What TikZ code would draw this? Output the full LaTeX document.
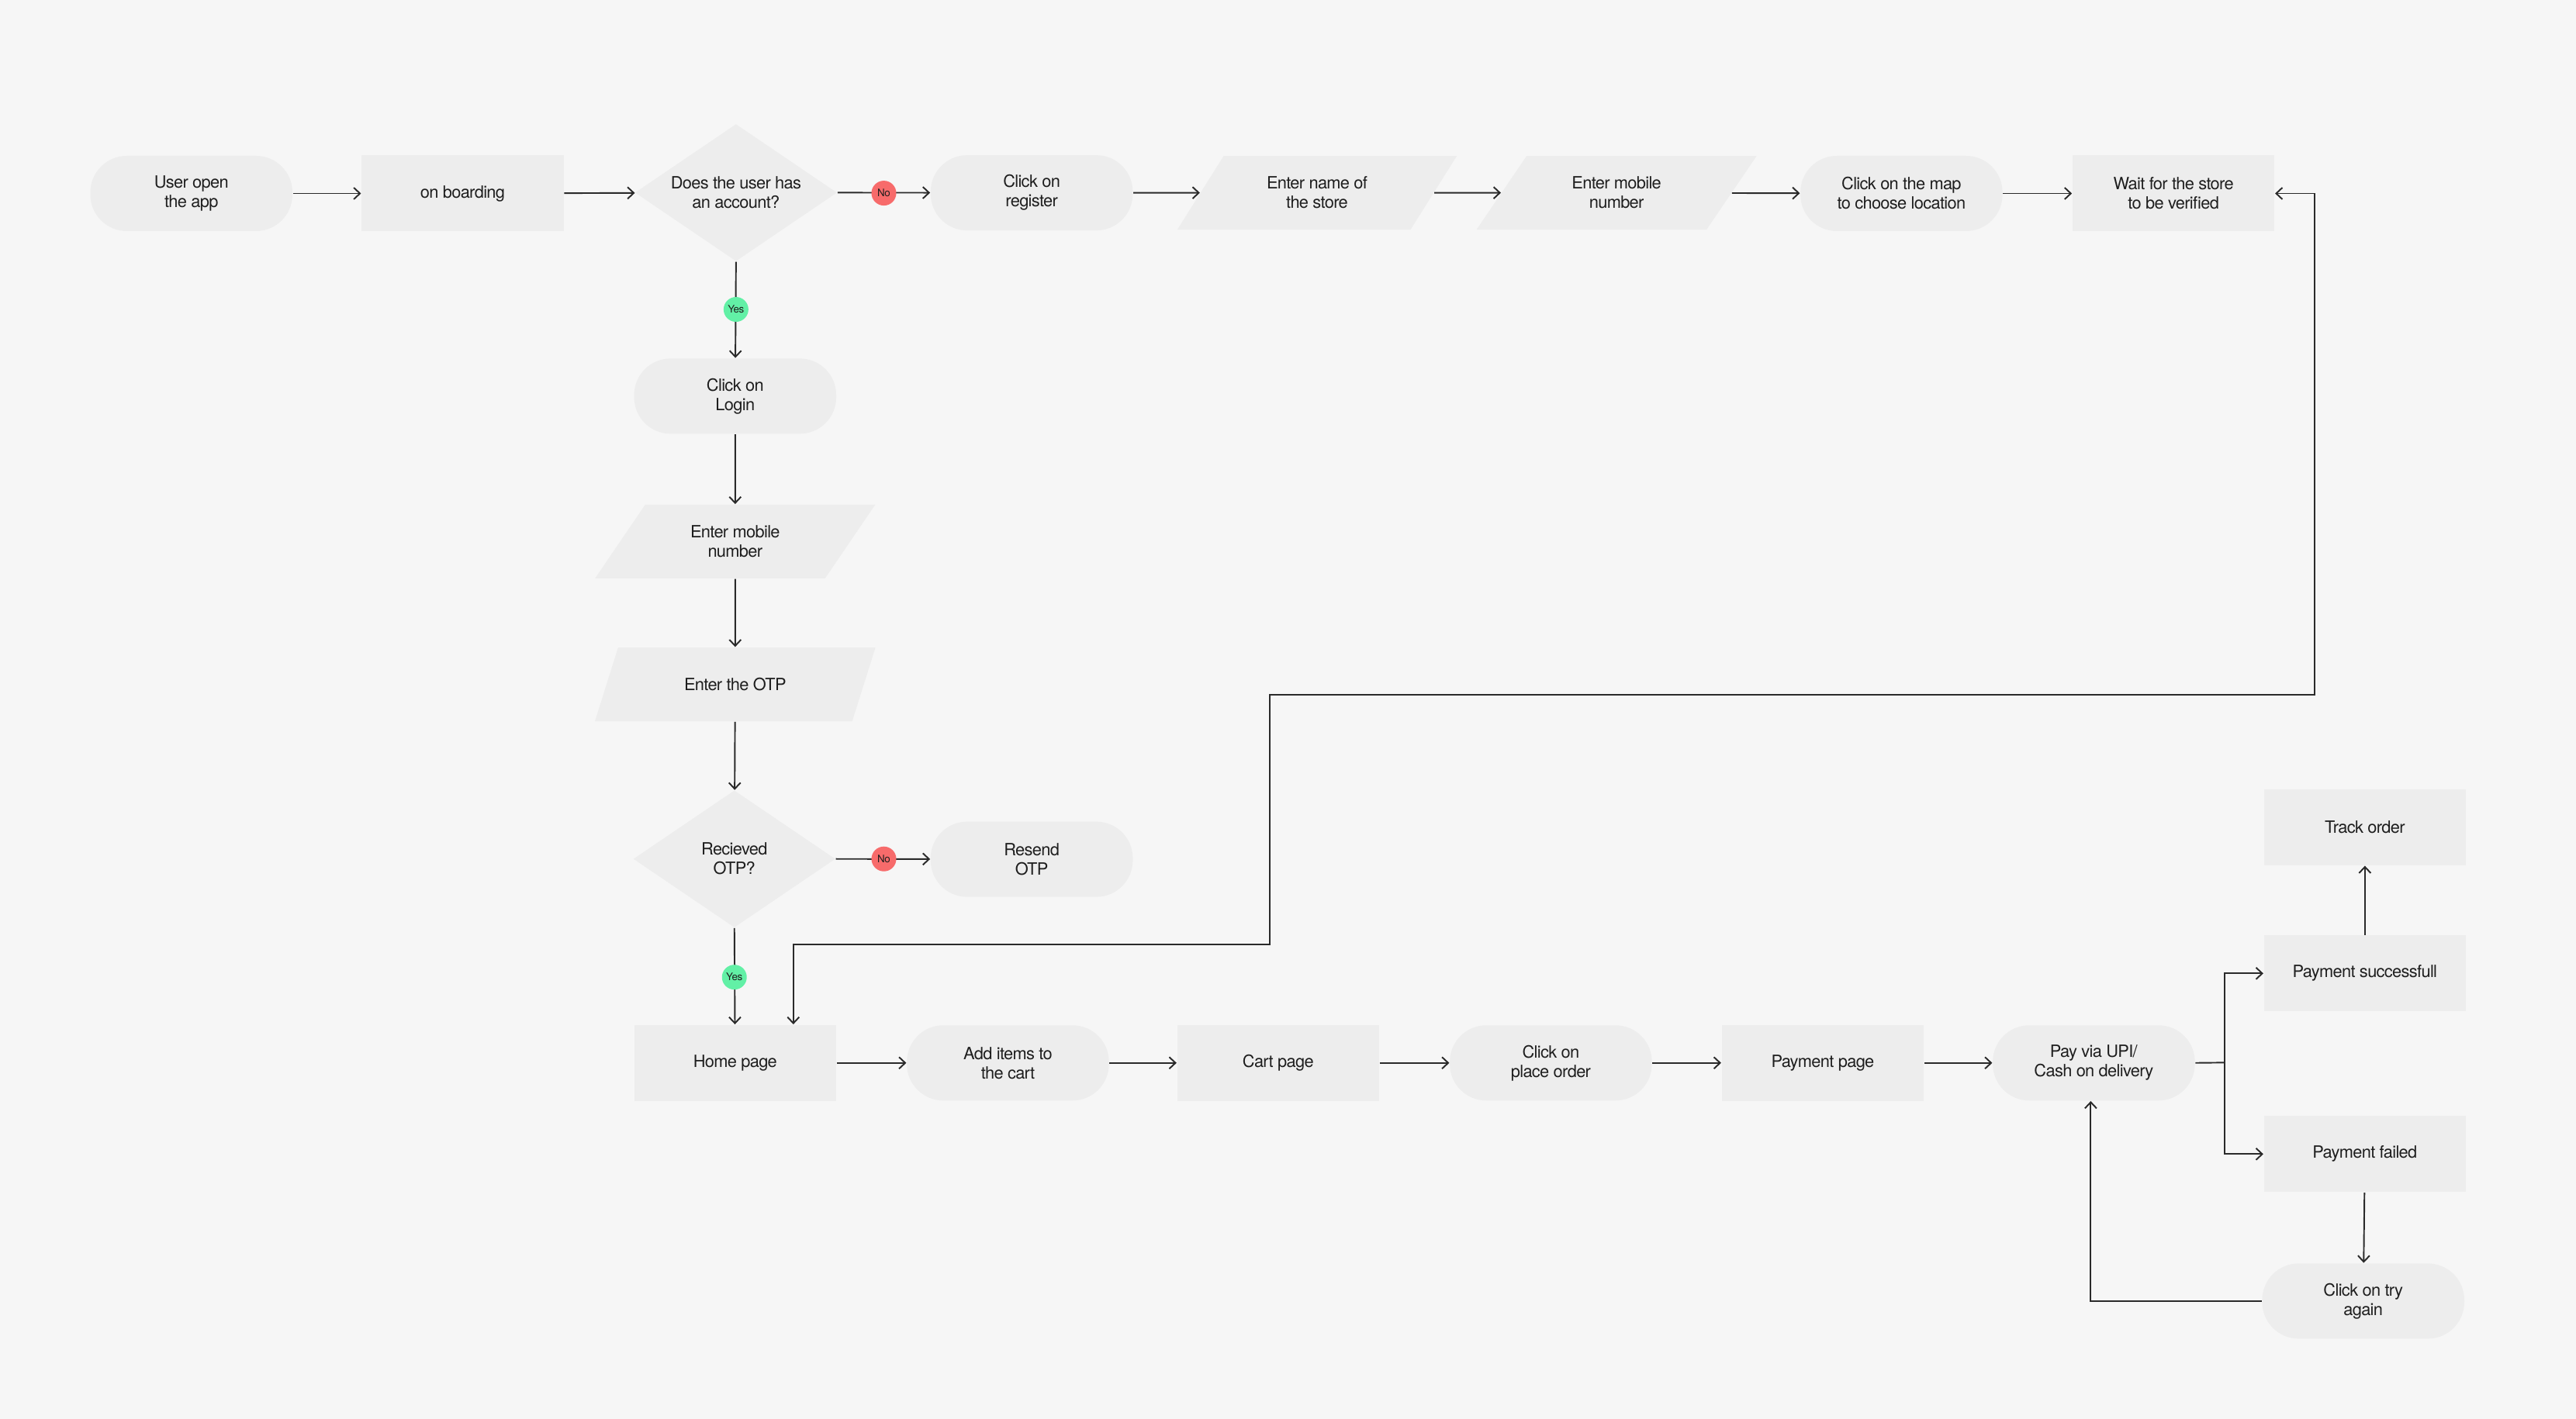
\documentclass[tikz,border=0pt]{standalone}
\usepackage{fontspec}
\setmainfont{TeX Gyre Heros}[LetterSpace=-3]
\usetikzlibrary{shapes.geometric,arrows.meta,calc}

\definecolor{canvas}{HTML}{F6F6F6}
\definecolor{boxfill}{HTML}{EDEDED}
\definecolor{ink}{HTML}{1E1E1E}
\definecolor{linecol}{HTML}{2A2A2A}
\definecolor{nored}{HTML}{F76B6B}
\definecolor{yesgreen}{HTML}{62F0A6}

\tikzset{
  base/.style={fill=boxfill, draw=none, text=ink, align=center, inner sep=0pt,
    font=\fontsize{6.2}{7.1}\selectfont},
  pill/.style={base, rectangle, rounded corners=4.7mm,
    minimum width=26.05mm, minimum height=9.7mm},
  box/.style={base, rectangle, minimum width=26.05mm, minimum height=9.8mm},
  decision/.style={base, diamond, shape aspect=1.47,
    minimum width=26.05mm, minimum height=17.7mm},
  inputbox/.style={base, trapezium, trapezium left angle=52,
    trapezium right angle=128, trapezium stretches=true,
    minimum width=36.2mm, minimum height=9.5mm},
  flow/.style={draw=linecol, line width=0.55pt,
    -{Straight Barb[length=0.8mm,width=1.5mm]}},
  twoway/.style={draw=linecol, line width=0.55pt,
    {Straight Barb[length=0.8mm,width=1.5mm]}-{Straight Barb[length=0.8mm,width=1.5mm]}},
  plain/.style={draw=linecol, line width=0.55pt},
  badge/.style={circle, draw=none, inner sep=0pt, minimum size=3.2mm,
    text=ink, font=\fontsize{3.8}{4}\selectfont},
  nobadge/.style={badge, fill=nored},
  yesbadge/.style={badge, fill=yesgreen},
}

\begin{document}
\begin{tikzpicture}[x=0.2118mm, y=-0.2118mm]
  % canvas
  \fill[canvas] (0,0) rectangle (1568,864);
  \useasboundingbox (0,0) rectangle (1568,864);

  % top row: registration
  \node[pill]     (user)     at (116.5,117.8) {User open\\the app};
  \node[box]      (onboard)  at (281.6,117.8) {on boarding};
  \node[decision] (account)  at (448,117.3)   {Does the user has\\an account?};
  \node[pill]     (register) at (628,117.4)   {Click on\\register};
  \node[inputbox] (storename) at (801.7,117.4) {Enter name of\\the store};
  \node[inputbox] (regmobile) at (984,117.4)   {Enter mobile\\number};
  \node[pill]     (map)      at (1157.4,117.8) {Click on the map\\to choose location};
  \node[box]      (wait)     at (1323,117.8)  {Wait for the store\\to be verified};

  % login column
  \node[pill]     (login)    at (447.5,241.2) {Click on\\Login};
  \node[inputbox] (mobile)   at (447.5,329.7) {Enter mobile\\number};
  \node[inputbox] (otp)      at (447.5,416.7) {Enter the OTP};
  \node[decision] (received) at (447,523)     {Recieved\\OTP?};
  \node[pill]     (resend)   at (628,523.2)   {Resend\\OTP};

  % bottom row: ordering
  \node[box]      (home)     at (447.5,647.2) {Home page};
  \node[pill]     (additems) at (613.5,647.2) {Add items to\\the cart};
  \node[box]      (cart)     at (778,647.2)   {Cart page};
  \node[pill]     (place)    at (944,647.2)   {Click on\\place order};
  \node[box]      (paypage)  at (1109.5,647.2) {Payment page};
  \node[pill]     (pay)      at (1274.5,647.2) {Pay via UPI/\\Cash on delivery};
  \node[box]      (success)  at (1439.5,592.7) {Payment successfull};
  \node[box]      (track)    at (1439.5,503.7) {Track order};
  \node[box]      (failed)   at (1439.5,702.7) {Payment failed};
  \node[pill]     (retry)    at (1438.5,792.2) {Click on try\\again};

  % routing points
  \coordinate (split) at (1354,647);
  \coordinate (loopA) at (1409,423);
  \coordinate (loopB) at (773,423);
  \coordinate (loopC) at (773,575);

  % connectors, top row
  \draw[flow] (user) -- (onboard);
  \draw[flow] (onboard) -- (account);
  \draw[flow] (account.east) -- (register);
  \draw[flow] (register) -- (storename);
  \draw[flow] (storename) -- (regmobile);
  \draw[flow] (regmobile) -- (map);
  \draw[flow] (map) -- (wait);

  % connectors, login column
  \draw[flow] (account.south) -- (login);
  \draw[flow] (login) -- (mobile);
  \draw[flow] (mobile) -- (otp);
  \draw[flow] (otp) -- (received);
  \draw[flow] (received.east) -- (resend);
  \draw[flow] (received.south) -- (home);

  % store verified -> home page
  \draw[twoway] (wait.east) -| (loopA) -- (loopB) -- (loopC)
    -| ([xshift=7.5mm]home.north);

  % connectors, bottom row
  \draw[flow] (home) -- (additems);
  \draw[flow] (additems) -- (cart);
  \draw[flow] (cart) -- (place);
  \draw[flow] (place) -- (paypage);
  \draw[flow] (paypage) -- (pay);
  \draw[plain] (pay.east) -- (split);
  \draw[flow] (split) |- (success.west);
  \draw[flow] (split) |- (failed.west);
  \draw[flow] (success) -- (track);
  \draw[flow] (failed) -- (retry);
  \draw[flow] (retry.west) -| ([xshift=-0.4mm]pay.south);

  % decision labels
  \node[nobadge]  (no1)  at (538,117.6) {No};
  \node[yesbadge] (yes1) at (448,188.4) {Yes};
  \node[nobadge]  (no2)  at (538,523)   {No};
  \node[yesbadge] (yes2) at (447,595)   {Yes};
\end{tikzpicture}
\end{document}
